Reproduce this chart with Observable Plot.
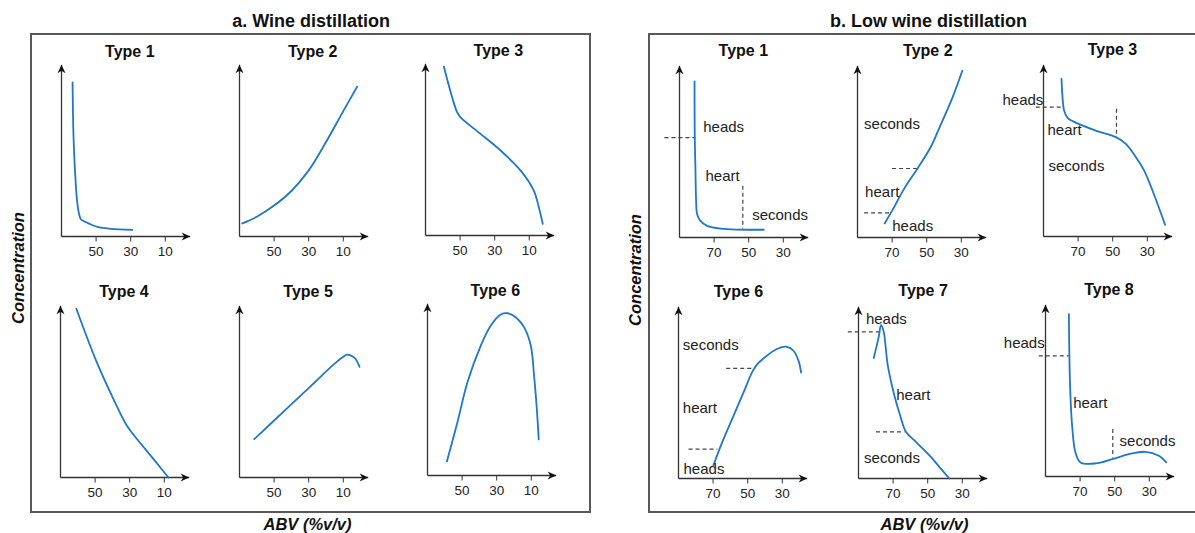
<!DOCTYPE html>
<html><head><meta charset="utf-8">
<script src="https://cdn.jsdelivr.net/npm/d3@7"></script>
<script src="https://cdn.jsdelivr.net/npm/@observablehq/plot@0.6"></script>
<style>
html,body{margin:0;padding:0;background:#fff;}
#fig{position:relative;width:1195px;height:533px;overflow:hidden;background:#fff;font-family:"Liberation Sans",Arial,Helvetica,sans-serif;color:#111;}
.box{position:absolute;box-sizing:border-box;border:2px solid #585858;}
.lab{position:absolute;white-space:nowrap;line-height:1;}
</style></head><body><div id="fig"></div>
<script>
// ---------- data ----------
const wineTicks = [50, 30, 10];
const lowWineTicks = [70, 50, 30];
const wineTitles = ["Type 1", "Type 2", "Type 3", "Type 4", "Type 5", "Type 6"];
const lowWineTitles = ["Type 1", "Type 2", "Type 3", "Type 6", "Type 7", "Type 8"];

// curves: [ABV, concentration]
const wine1 = [[63.6,89.7],[63.1,59.6],[62.3,40.2],[61,20.8],[59.8,13],[58.7,9.9],[56,8.4],[49.2,5.6],[41.5,4.5],[29,3.9]];
const wine2 = [[68.4,7.6],[60,11.5],[50,18],[40,26.5],[30,38.5],[20,55],[10,73],[2,87.2]];
const wine3 = [[59.4,98.4],[54.6,80.5],[51.7,71.8],[49.4,68.5],[38.2,59.2],[26.6,49.5],[15.1,37.9],[7.4,26.2],[4.5,16.5],[2.2,6.8]];
const wine4 = [[60.9,98.4],[49,67],[39.4,45.7],[31.6,30.1],[25.8,22.4],[16.2,10.7],[7.6,0]];
const wine5 = [[61.5,22.3],[45,37.9],[30,52.1],[15,66.3],[10,70.3],[7.9,71.6],[5.5,71],[3.1,69.3],[0.6,64.4]];
const wine6 = [[58.8,8.2],[52.7,31],[46.9,54.3],[39.2,75.7],[33.4,87.4],[27.6,93.8],[23.8,94.5],[19,92.2],[14.2,86.4],[10.3,75.7],[8.4,58.2],[6.8,38.8],[5.7,21]];

const low1 = [[81.3,90.9],[81.2,60.2],[80.8,40.8],[80.4,21.4],[79.8,13.6],[77.9,9.7],[74,6.8],[66.3,5.2],[41.3,4.5]];
const low2 = [[74.3,8.2],[69.5,16.5],[62.9,28.6],[55.3,40.2],[47.5,53],[42.8,63.6],[35.1,81.5],[29.4,97.1]];
const low3 = [[79.6,91.8],[79,81.1],[78.1,73.4],[76.1,69.1],[73.2,67.2],[59.8,61.7],[48.2,57.9],[42.4,54],[36.6,46.2],[31.8,38.4],[27,26.8],[19.7,6.8]];
const low6 = [[69.8,7.8],[64,22.9],[58.2,36.5],[52.4,50.1],[47.5,61.8],[44.7,66.3],[40.9,69.9],[33.1,75.4],[27.3,76.7],[23.5,74.4],[20.6,68.5],[19.1,61.7]];
const low7 = [[81.2,70.2],[78.3,82.5],[77,89.3],[75.4,85.4],[74.2,75.5],[73.1,66],[69.3,48.5],[66,37],[62.5,27.1],[56.8,21.3],[49.1,13.6],[43.3,6.8],[37.5,0]];
const low8 = [[76.5,94.6],[76.1,64.5],[75.5,45.1],[74.6,29.5],[72.7,14],[69.8,8.2],[61.1,7.6],[51.4,10.1],[41.8,13],[32.2,14.4],[24.5,12.1],[20.2,8.2]];

// fraction labels: [text, ABV, concentration]
const low1Labels = [["heads",76.3,61.2],["heart",75,33],["seconds",48,10.3]];
const low2Labels = [["seconds",86.2,63.1],["heart",85.6,23.3],["heads",69.9,3.5]];
const low3Labels = [["heads",113.7,76.7],["heart",87.7,59.4],["seconds",87.1,38.4]];
const low6Labels = [["seconds",87.5,75],["heart",87.5,38.1],["heads",87.1,2.6]];
const low7Labels = [["heads",85.7,89.7],["heart",68.2,45.6],["seconds",86.8,9.3]];
const low8Labels = [["heads",114.1,75.1],["heart",74,39.8],["seconds",47.2,17.9]];

// cut lines: [ABV1, conc1, ABV2, conc2]
const low1Cuts = [[98.7,58.2,80.8,58.2],[53.4,30.1,53.4,5.2]];
const low2Cuts = [[70,40.2,54.8,40.2],[86.2,14.4,70.8,14.4]];
const low3Cuts = [[94.5,75.3,78.1,75.3],[47.8,74.4,47.8,57.8]];
const low6Cuts = [[62.4,64.1,46.5,64.1],[84.2,17.1,67.5,17.1]];
const low7Cuts = [[96.2,85.4,77,85.4],[79.9,27.1,63.4,27.1]];
const low8Cuts = [[93.9,70.3,76.5,70.3],[51.1,27.6,51.1,11.1]];

// ---------- layout ----------
const wineDomain = [70, -4.4];
const lowWineDomain = [90, 15.6];
const wineLayout = [
  {ox:60.7, oy:235.7, tOff:68.3, tBase:55.8},
  {ox:239, oy:235.7, tOff:73.2, tBase:55.8},
  {ox:425, oy:235, tOff:72.8, tBase:55.3},
  {ox:60.3, oy:476.7, tOff:63.4, tBase:296.5},
  {ox:239.3, oy:477.3, tOff:68.6, tBase:296.5},
  {ox:426.7, oy:475, tOff:67.8, tBase:295.5}
];
const lowLayout = [
  {ox:679, oy:236.7, tOff:63.8, tBase:55.3},
  {ox:856.7, oy:236.7, tOff:70.3, tBase:55},
  {ox:1042.7, oy:236, tOff:69, tBase:54.5},
  {ox:678.3, oy:477.7, tOff:59.9, tBase:295.7},
  {ox:857.5, oy:478.3, tOff:64.6, tBase:295.5},
  {ox:1045, oy:475.7, tOff:63.5, tBase:294.3}
];

const BLUE = "#1f77c8";
const FONT = '"Liberation Sans", Arial, Helvetica, sans-serif';
const fig = document.getElementById("fig");

const arrowHead = {
  draw(ctx) {
    ctx.moveTo(0, 0);
    ctx.lineTo(4, 8.5);
    ctx.lineTo(0, 6);
    ctx.lineTo(-4, 8.5);
    ctx.closePath();
  }
};

function subplot(lay, domain, ticks, title, curve, labels = [], cuts = []) {
  const PW = 128.7, PH = 171.7;
  const W = 209, H = 232, ML = 60, MB = 30;
  const MR = W - ML - PW, MT = H - MB - PH;
  const axisTop = lay.oy - PH;
  const chart = Plot.plot({
    width: W, height: H,
    marginLeft: ML, marginRight: MR, marginTop: MT, marginBottom: MB,
    x: {domain},
    y: {domain: [0, 100], axis: null},
    style: {background: "transparent", overflow: "visible", fontFamily: FONT},
    marks: [
      Plot.link([{x1: domain[0], y1: 0, x2: domain[1], y2: 0}, {x1: domain[0], y1: 0, x2: domain[0], y2: 100}],
        {x1: "x1", y1: "y1", x2: "x2", y2: "y2", stroke: "#333", strokeWidth: 1.3}),
      Plot.axisX(ticks, {tickSize: 5.5, tickPadding: 4.5, fontSize: 13.5, stroke: "#333", fill: "#222", label: null}),
      Plot.dot([{x: domain[1], y: 0, angle: 90}, {x: domain[0], y: 100, angle: 0}],
        {x: "x", y: "y", rotate: "angle", symbol: arrowHead, fill: "#111", stroke: "none"}),
      Plot.link(cuts, {x1: d => d[0], y1: d => d[1], x2: d => d[2], y2: d => d[3],
        stroke: "#444", strokeWidth: 1.2, strokeDasharray: "4,3"}),
      Plot.line(curve, {x: d => d[0], y: d => d[1], curve: "catmull-rom", stroke: BLUE, strokeWidth: 1.8}),
      Plot.text(labels, {x: d => d[1], y: d => d[2], text: d => d[0], textAnchor: "start",
        lineAnchor: "bottom", fontSize: 15, fill: "#222"}),
      Plot.text([title], {text: d => d, frameAnchor: "top", dx: lay.tOff - PW / 2, dy: lay.tBase - axisTop,
        lineAnchor: "bottom", fontSize: 16, fontWeight: "bold", fill: "#111"})
    ]
  });
  chart.style.position = "absolute";
  chart.style.left = (lay.ox - ML) + "px";
  chart.style.top = (axisTop - MT) + "px";
  chart.style.background = "transparent";
  chart.style.overflow = "visible";
  chart.style.maxWidth = "none";
  fig.appendChild(chart);
}

function box(left, top, width, height) {
  const d = document.createElement("div");
  d.className = "box";
  Object.assign(d.style, {left: left + "px", top: top + "px", width: width + "px", height: height + "px"});
  fig.appendChild(d);
}
function lab(text, cx, baseline, size, weight, italic, rotate) {
  const d = document.createElement("div");
  d.className = "lab";
  d.textContent = text;
  d.style.fontSize = size + "px";
  d.style.fontWeight = weight;
  d.style.fontStyle = italic ? "italic" : "normal";
  d.style.left = cx + "px";
  if (rotate) {
    d.style.top = baseline + "px";
    d.style.transform = "translate(-50%,-50%) rotate(-90deg)";
  } else {
    d.style.top = (baseline - 0.8465 * size) + "px";
    d.style.transform = "translateX(-50%)";
  }
  fig.appendChild(d);
}

box(30, 33, 561, 479.7);
box(648.3, 33, 600, 480.3);

lab("a. Wine distillation", 311.2, 27, 18, "bold");
lab("b. Low wine distillation", 928.5, 27, 18, "bold");
lab("Concentration", 17.5, 268.4, 16.5, "bold", true, true);
lab("Concentration", 635, 269.5, 16.5, "bold", true, true);
lab("ABV (%v/v)", 307.5, 530, 16.5, "bold", true);
lab("ABV (%v/v)", 924.5, 530, 16.5, "bold", true);

const wineCurves = [wine1, wine2, wine3, wine4, wine5, wine6];
wineCurves.forEach((c, i) => subplot(wineLayout[i], wineDomain, wineTicks, wineTitles[i], c));

const lowCurves = [low1, low2, low3, low6, low7, low8];
const lowLabels = [low1Labels, low2Labels, low3Labels, low6Labels, low7Labels, low8Labels];
const lowCuts = [low1Cuts, low2Cuts, low3Cuts, low6Cuts, low7Cuts, low8Cuts];
lowCurves.forEach((c, i) => subplot(lowLayout[i], lowWineDomain, lowWineTicks, lowWineTitles[i], c, lowLabels[i], lowCuts[i]));
</script></body></html>
